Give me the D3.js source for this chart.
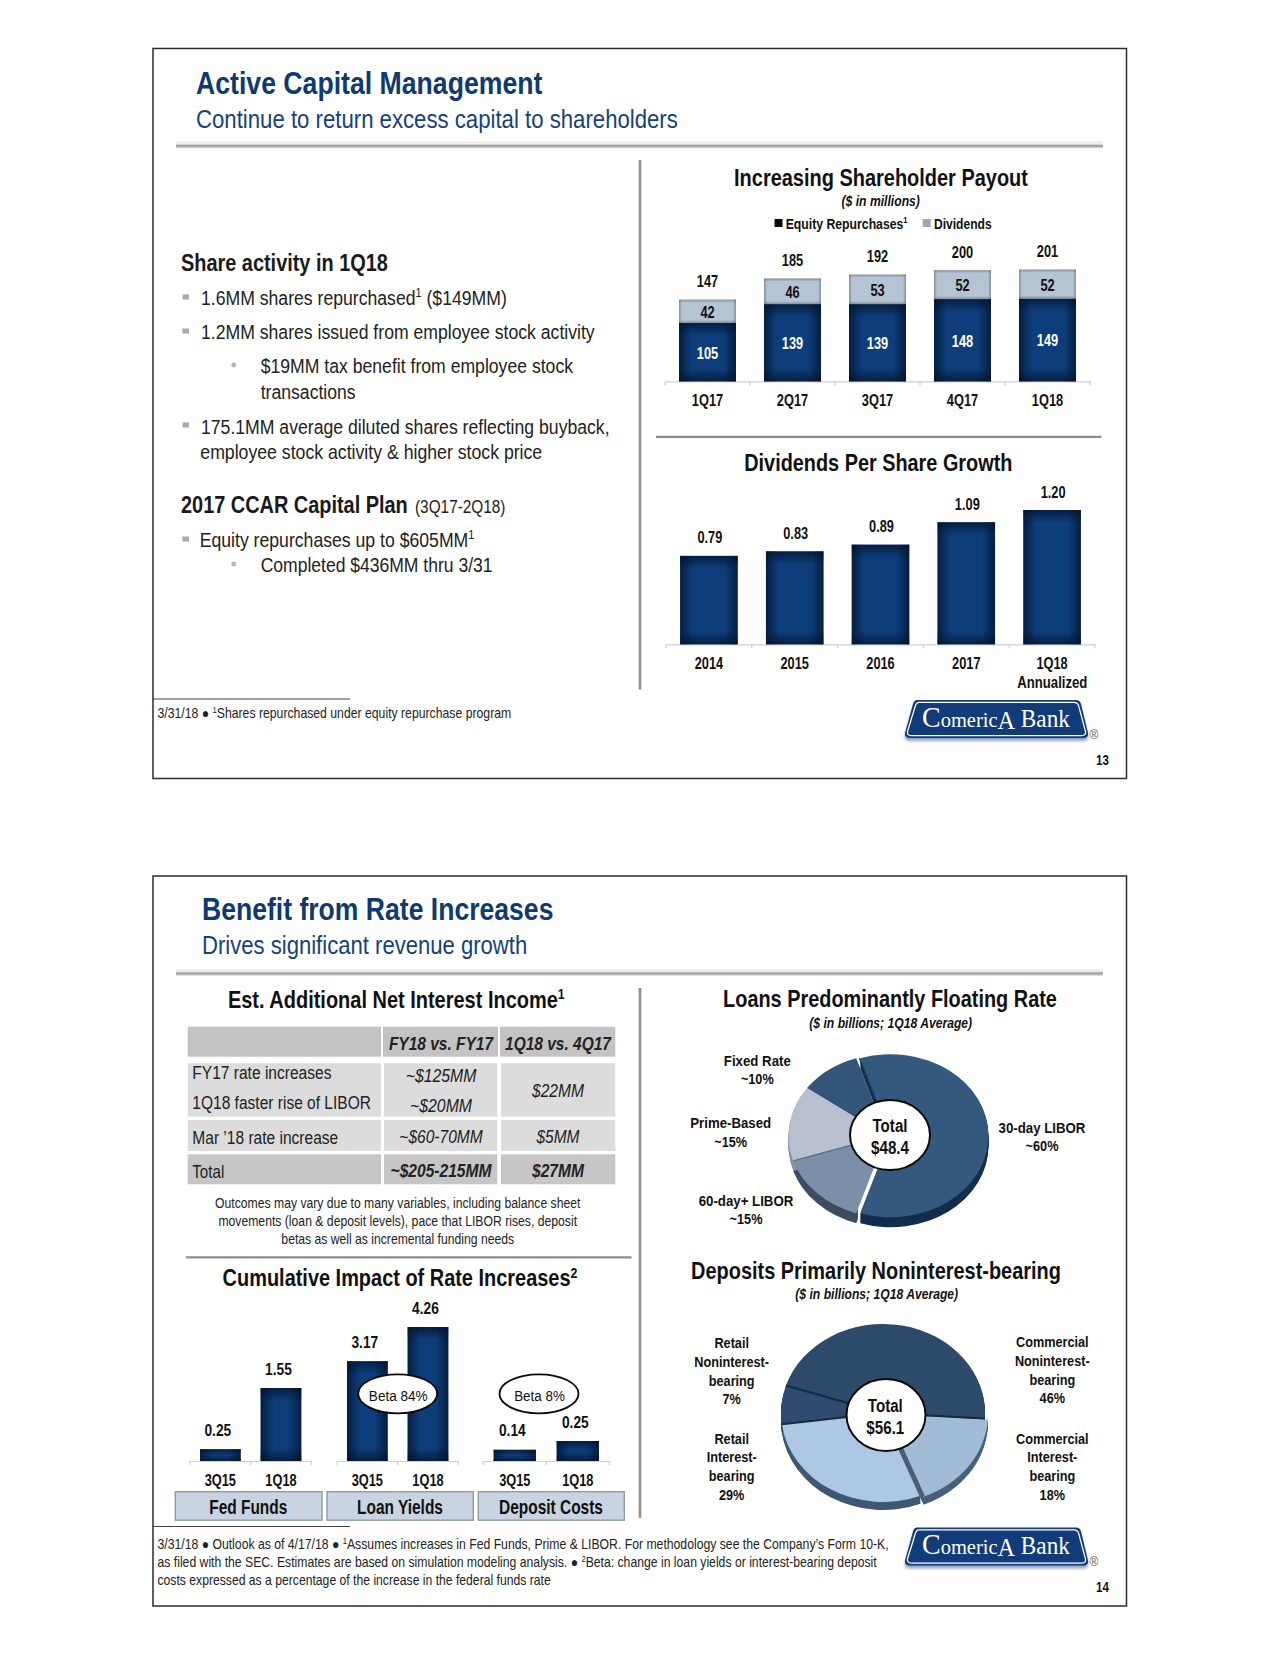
<!DOCTYPE html>
<html><head><meta charset="utf-8">
<script src="https://cdn.jsdelivr.net/npm/d3@7"></script>
<style>html,body{margin:0;padding:0;background:#fff}svg{display:block}</style>
</head><body><svg id="c" width="1280" height="1656"></svg>
<script>
// ---------- data ----------
const payoutQuarters = ["1Q17","2Q17","3Q17","4Q17","1Q18"];
const equityRepurchases = [105,139,139,148,149];
const dividends = [42,46,53,52,52];
const payoutTotals = [147,185,192,200,201];
const dpsYears = ["2014","2015","2016","2017","1Q18"];
const dpsValues = [0.79,0.83,0.89,1.09,1.20];
const rateGroups = ["Fed Funds","Loan Yields","Deposit Costs"];
const ratePeriods = ["3Q15","1Q18"];
const fedFunds = [0.25,1.55];
const loanYields = [3.17,4.26];
const depositCosts = [0.14,0.25];
const loanLabels = ["30-day LIBOR","60-day+ LIBOR","Prime-Based","Fixed Rate"];
const loanShares = [60,15,15,10];
const depositLabels = ["Commercial Noninterest-bearing","Commercial Interest-bearing","Retail Interest-bearing","Retail Noninterest-bearing"];
const depositShares = [46,18,29,7];
const tableHeader = ["FY18 vs. FY17","1Q18 vs. 4Q17"];
const tableFY = ["~$125MM","~$20MM","~$60-70MM","~$205-215MM"];
const tableQ = ["$22MM","$5MM","$27MM"];

// ---------- helpers ----------
const FONT = "'Liberation Sans', Arial, sans-serif";
const svg = d3.select("#c");
svg.append("rect").attr("width",1280).attr("height",1656).attr("fill","#fff");
function T(x,y,s,o={}){
  const sz=o.size||16;
  const t = svg.append("text").attr("font-family",FONT).attr("font-size",sz)
    .attr("font-weight",o.bold?700:400).attr("font-style",o.italic?"italic":"normal")
    .attr("text-anchor",o.anchor||"start").attr("fill",o.color||"#111");
  const parts = s.split(/\^(\d)/);
  let up=false;
  parts.forEach((p,i)=>{
    if(!p) return;
    const ts=t.append("tspan").text(p);
    if(i%2){ts.attr("font-size",sz*0.62).attr("dy",-sz*0.36);up=true;}
    else if(up){ts.attr("dy",sz*0.36);up=false;}
  });
  const len=t.node().getComputedTextLength();
  const k=o.w? o.w/len : (o.k||0.8);
  t.attr("transform",`translate(${x},${y}) scale(${k},1)`);
  return t;
}
const C=(x,y,s,o={})=>T(x,y,s,Object.assign({anchor:"middle"},o));
const defs=svg.append("defs");
const rl=defs.append("linearGradient").attr("id","rule").attr("x1",0).attr("y1",0).attr("x2",0).attr("y2",1);
[["0%","#e4e4e4"],["25%","#f4f4f4"],["42%","#dcdcdc"],["58%","#9c9c9c"],["78%","#b4b4b4"],["100%","#f2f2f2"]].forEach(s=>rl.append("stop").attr("offset",s[0]).attr("stop-color",s[1]));
const dsh=defs.append("filter").attr("id","soft").attr("x","-10%").attr("y","-20%").attr("width","120%").attr("height","150%");
dsh.append("feGaussianBlur").attr("stdDeviation",1.6);
let gid=0;
function edgeGrad(horizontal,frac,color,op){
  const id="g"+(gid++);
  const g=defs.append("linearGradient").attr("id",id).attr("x1",0).attr("y1",0).attr("x2",horizontal?1:0).attr("y2",horizontal?0:1);
  [[0,op],[frac,0],[1-frac,0],[1,op]].forEach(s=>g.append("stop").attr("offset",s[0]).attr("stop-color",color).attr("stop-opacity",s[1]));
  return `url(#${id})`;
}
// a rectangle shaded dark towards all four edges
function shaded(x,y,w,h,base,edge,fade,op){
  const r=(f)=>svg.append("rect").attr("x",x).attr("y",y).attr("width",w).attr("height",h).attr("fill",f);
  r(base);
  r(edgeGrad(true,Math.min(fade/w,.5),edge,op));
  r(edgeGrad(false,Math.min(fade/h,.5),edge,op));
}
const navy=(x,y,w,h)=>shaded(x,y,w,h,"#0d3e7b","#03122a",13,.72);
const capR=(x,y,w,h)=>shaded(x,y,w,h,"#b5c4d2","#65727e",3,.65);

function slideFrame(top,title,tw,sub,sw,tx,page){
  const dy=top-48.5;
  svg.append("rect").attr("x",153).attr("y",top).attr("width",973.5).attr("height",730).attr("fill","none").attr("stroke","#2b2b2b").attr("stroke-width",1.5);
  T(tx,94+dy-(page==14?1.5:0),title,{size:32,bold:true,color:"#0f3a70",w:tw});
  T(tx,128.3+dy-(page==14?1.5:0),sub,{size:26,color:"#14427c",w:sw});
  svg.append("rect").attr("x",176).attr("y",141.5+dy).attr("width",927).attr("height",7).attr("fill","url(#rule)");
  svg.append("line").attr("x1",153).attr("x2",350).attr("y1",699+dy).attr("y2",699+dy).attr("stroke","#444").attr("stroke-width",1);
  // logo
  const g=svg.append("g").attr("transform",`translate(905,${700+dy})`);
  const shape="M12,0 H171 Q175,0 176,4 L183,33 Q184,38 178,38 H5 Q-1,38 0,33 L8,4 Q9,0 12,0 Z";
  g.append("path").attr("d",shape).attr("transform","translate(0,3)").attr("fill","#8fa3bb").attr("filter","url(#soft)");
  g.append("path").attr("d",shape).attr("fill","#123b7a");
  g.append("path").attr("d",shape).attr("fill","none").attr("stroke","#fff").attr("stroke-width",1.3)
    .attr("transform","translate(92,19) scale(.972,.875) translate(-92,-19)");
  const lt=svg.append("text").attr("font-family","'Liberation Serif',serif").attr("fill","#fff").attr("text-anchor","middle").attr("font-size",24);
  lt.append("tspan").attr("font-size",30).text("C");
  lt.append("tspan").attr("font-size",22).text("omeric");
  lt.append("tspan").attr("font-size",26).attr("dy",2).text("A");
  lt.append("tspan").attr("font-size",25).attr("dy",-2).text(" Bank");
  const k=148/lt.node().getComputedTextLength();
  lt.attr("transform",`translate(996,${726.7+dy}) scale(${k},1)`);
  C(1094,738.5+dy,"®",{size:12,color:"#555",k:1});
  T(1109,764.5+dy,String(page),{size:14.5,bold:true,anchor:"end",k:.8});
}
function vrule(x,y1,y2){svg.append("line").attr("x1",x).attr("x2",x).attr("y1",y1).attr("y2",y2).attr("stroke","#8d8d8d").attr("stroke-width",2.6);}
function hrule(x1,x2,y){svg.append("line").attr("x1",x1).attr("x2",x2).attr("y1",y).attr("y2",y).attr("stroke","#8d8d8d").attr("stroke-width",2.2);}
function axis(x,base,labelY,labels,fontSize){
  const g=svg.append("g").attr("transform",`translate(0,${base})`);
  g.call(d3.axisBottom(x).tickSize(0).tickPadding(labelY-base-fontSize*0.78));
  g.select(".domain").attr("stroke","#cfcfcf").attr("stroke-width",1.2);
  g.selectAll("text").attr("font-family",FONT).attr("font-size",fontSize).attr("font-weight",700).attr("fill","#111")
    .attr("text-anchor","middle").attr("transform","scale(.8,1)");
  const st=x.step(), r=x.range();
  d3.range(labels.length+1).forEach(i=>{
    g.append("line").attr("x1",r[0]+i*st).attr("x2",r[0]+i*st).attr("y1",0).attr("y2",4).attr("stroke","#cfcfcf").attr("stroke-width",1.2);
  });
  return g;
}

// ---------- slide frames ----------
slideFrame(48.5,"Active Capital Management",346.5,"Continue to return excess capital to shareholders",482,196,13);
slideFrame(876,"Benefit from Rate Increases",351.5,"Drives significant revenue growth",325.5,202,14);
vrule(640,160,689.5); hrule(656,1101.5,436.8);
vrule(640,988,1518); hrule(186,631.5,1257.3);

// ---------- slide 13, left text ----------
const sq=(y)=>svg.append("rect").attr("x",182.5).attr("y",y-2.5).attr("width",6.5).attr("height",5).attr("fill","#a9a9a9");
const dot=(y)=>svg.append("circle").attr("cx",233.7).attr("cy",y).attr("r",2.4).attr("fill","#b5b5b5");
const body={size:21,color:"#222"};
T(181,271,"Share activity in 1Q18",{size:23.5,bold:true,w:207,color:"#1a1a1a"});
sq(297);T(201,305,"1.6MM shares repurchased^1 ($149MM)",{...body,w:306});
sq(331);T(201,339.4,"1.2MM shares issued from employee stock activity",{...body,w:394});
dot(365);T(260.7,373.3,"$19MM tax benefit from employee stock",{...body,w:312.5});
T(260.7,399,"transactions",{...body,w:95});
sq(425);T(201,433.5,"175.1MM average diluted shares reflecting buyback,",{...body,w:409});
T(200.3,459.2,"employee stock activity & higher stock price",{...body,w:342});
T(181,512.5,"2017 CCAR Capital Plan",{size:23.5,bold:true,w:227,color:"#1a1a1a"});
T(415,512.5,"(3Q17-2Q18)",{size:19,w:90.5,color:"#222"});
sq(539);T(199.7,547,"Equity repurchases up to $605MM^1",{...body,w:275});
dot(564);T(260.7,572.4,"Completed $436MM thru 3/31",{...body,w:232});
T(157.5,718,"3/31/18 ● ^1Shares repurchased under equity repurchase program",{size:14,w:354,color:"#222"});

// ---------- payout stacked bars ----------
C(881,185.7,"Increasing Shareholder Payout",{size:23.5,bold:true,w:294});
C(880.7,206,"($ in millions)",{size:14,bold:true,italic:true,w:78.5});
svg.append("rect").attr("x",774.5).attr("y",219).attr("width",8).attr("height",8).attr("fill","#0a0a0a");
T(785.7,228.6,"Equity Repurchases^1",{size:14.5,bold:true,w:122});
svg.append("rect").attr("x",922.7).attr("y",219).attr("width",8).attr("height",8).attr("fill","#9aaab8");
T(934,228.6,"Dividends",{size:14.5,bold:true,w:57.7});
const xP=d3.scaleBand().domain(payoutQuarters).range([665,1090]).paddingInner(0.33).paddingOuter(0.165);
const yP=d3.scaleLinear().domain([0,201]).range([381.4,269.6]);
axis(xP,381.4,407.5,payoutQuarters,16);
payoutQuarters.forEach((q,i)=>{
  const x=xP(q),w=xP.bandwidth(),e=equityRepurchases[i],d=dividends[i];
  navy(x,yP(e),w,yP(0)-yP(e));
  capR(x,yP(e+d),w,yP(e)-yP(e+d));
  const cx=x+w/2;
  C(cx,(yP(e)+yP(0))/2+6.5,String(e),{bold:true,color:"#fff"});
  C(cx,(yP(e)+yP(e+d))/2+6.5,String(d),{bold:true});
  C(cx,yP(e+d)-12.5,String(payoutTotals[i]),{bold:true});
});

// ---------- dividends per share ----------
C(878.3,470.5,"Dividends Per Share Growth",{size:23.5,bold:true,w:268.3});
const xD=d3.scaleBand().domain(dpsYears).range([666,1095]).paddingInner(0.33).paddingOuter(0.165);
const yD=d3.scaleLinear().domain([0,1.2]).range([644.3,510]);
axis(xD,644.3,670.3,dpsYears,16);
dpsYears.forEach((q,i)=>{
  const x=xD(q),w=xD.bandwidth();
  navy(x,yD(dpsValues[i]),w,yD(0)-yD(dpsValues[i]));
  C(x+w/2+1,yD(dpsValues[i])-12.5,dpsValues[i].toFixed(2),{bold:true});
});
C(1052.3,688.3,"Annualized",{bold:true,w:70});

// ---------- slide 14 table ----------
C(396.3,1007.8,"Est. Additional Net Interest Income^1",{size:23.5,bold:true,w:337});
const cell=(x1,x2,y1,y2,f)=>svg.append("rect").attr("x",x1).attr("y",y1).attr("width",x2-x1).attr("height",y2-y1).attr("fill",f);
const c1=[187.7,381],c2=[383,498],c3=[500,615.3];
cell(c1[0],c1[1],1026.7,1056.7,"#c3c3c3");cell(c2[0],c2[1],1026.7,1056.7,"#c3c3c3");cell(c3[0],c3[1],1026.7,1056.7,"#c3c3c3");
const c2b=[384,497.3],c3b=[501,615.3];
[[1063.3,1116.7,"#dcdcdc"],[1120,1151,"#dcdcdc"],[1154.3,1184.3,"#c6c6c6"]].forEach(r=>{
  cell(c1[0],c1[1],r[0],r[1],r[2]);cell(c2b[0],c2b[1],r[0],r[1],r[2]);cell(c3b[0],c3b[1],r[0],r[1],r[2]);});
const ts={size:18.5,color:"#222"};
T(192.3,1079.3,"FY17 rate increases",{...ts,w:139.3});
T(192.3,1109.3,"1Q18 faster rise of LIBOR",{...ts,w:178.7});
T(192.3,1144,"Mar ’18 rate increase",{...ts,w:146});
T(192.3,1178.3,"Total",{...ts,w:32});
const ti={size:18.5,italic:true,color:"#222"};
C(441,1050,tableHeader[0],{size:18,bold:true,italic:true,w:104.3,color:"#222"});
C(558,1050,tableHeader[1],{size:18,bold:true,italic:true,w:106,color:"#222"});
C(441,1081.7,tableFY[0],{...ti,w:70.7});
C(441,1112.3,tableFY[1],{...ti,w:62});
C(441,1143.3,tableFY[2],{...ti,w:83.5});
C(441,1177.3,tableFY[3],{size:18.5,bold:true,italic:true,w:101,color:"#222"});
C(558,1096.7,tableQ[0],{...ti,w:52});
C(558,1143.3,tableQ[1],{...ti,w:43});
C(558,1177.3,tableQ[2],{size:18.5,bold:true,italic:true,w:52,color:"#222"});
const ns={size:14.5,color:"#222"};
C(397.7,1208.3,"Outcomes may vary due to many variables, including balance sheet",{...ns,w:365.7});
C(397.7,1226.3,"movements (loan & deposit levels), pace that LIBOR rises, deposit",{...ns,w:359});
C(397.7,1244.3,"betas as well as incremental funding needs",{...ns,w:233});

// ---------- cumulative impact ----------
C(400,1286.2,"Cumulative Impact of Rate Increases^2",{size:23.5,bold:true,w:355});
const base=1461;
[
 {vals:fedFunds,r:[190,311.3],h:73,lo:-2.5,box:[175.3,322],cx:248.3,w:78},
 {vals:loanYields,r:[337,458.3],h:134,lo:-2.5,box:[327,473.3],cx:400,w:86},
 {vals:depositCosts,r:[483.3,609.3],h:20,lo:-2.5,box:[478.3,624.3],cx:551,w:104}
].forEach((g,gi)=>{
  const x=d3.scaleBand().domain(ratePeriods).range(g.r).paddingInner(0.33).paddingOuter(0.165);
  const y=d3.scaleLinear().domain([0,d3.max(g.vals)]).range([base,base-g.h]);
  axis(x,base,1487.5,ratePeriods,16);
  g.vals.forEach((v,i)=>{
    const bx=x(ratePeriods[i]),bw=x.bandwidth(),ht=y(0)-y(v);
    navy(bx,y(v),bw,ht);
    C(bx+bw/2+g.lo,y(v)-13.5,v.toFixed(2),{bold:true,k:.86});
  });
  svg.append("rect").attr("x",g.box[0]).attr("y",1491.7).attr("width",g.box[1]-g.box[0]).attr("height",28.5).attr("fill","#c8d4e0").attr("stroke","#8e9aa8").attr("stroke-width",1.4);
  C(g.cx,1513.8,rateGroups[gi],{size:19.5,bold:true,w:g.w});
});
[[397.7,"Beta 84%",58.7],[539,"Beta 8%",50.7]].forEach(d=>{
  svg.append("ellipse").attr("cx",d[0]).attr("cy",1393.8).attr("rx",39.5).attr("ry",19.5).attr("fill","#fff").attr("stroke","#0a0a0a").attr("stroke-width",1.8);
  C(d[0]+.5,1400.7,d[1],{size:15.5,w:d[2],color:"#111"});
});
const fn={size:14,color:"#222"};
T(157.5,1549.3,"3/31/18 ● Outlook as of 4/17/18 ● ^1Assumes increases in Fed Funds, Prime & LIBOR. For methodology see the Company’s Form 10-K,",{...fn,w:732.5});
T(157.5,1567.3,"as filed with the SEC. Estimates are based on simulation modeling analysis. ● ^2Beta: change in loan yields or interest-bearing deposit",{...fn,w:720});
T(157.5,1585,"costs expressed as a percentage of the increase in the federal funds rate",{...fn,w:393.7});

// ---------- 3-D pies ----------
function pie3d(o){
  const arcs=d3.pie().sort(null).startAngle(o.start).endAngle(o.start+2*Math.PI)(o.values);
  const k=o.ry/o.rx, path=d3.arc().innerRadius(0).outerRadius(o.rx);
  const rim=d3.arc().outerRadius(o.rx);
  arcs.forEach((a,i)=>{
    const off=o.off[i], inner=(o.sideInner||[])[i]||0;
    for(let d=o.depth;d>=1;d--){
      svg.append("path").attr("d",rim.innerRadius(inner)(a)).attr("transform",`translate(${o.cx+off[0]},${o.cy+off[1]+d}) scale(1,${k})`).attr("fill",o.side[i]);
    }
  });
  arcs.forEach((a,i)=>{
    const off=o.off[i];
    svg.append("path").attr("d",path(a)).attr("transform",`translate(${o.cx+off[0]},${o.cy+off[1]}) scale(1,${k})`).attr("fill",o.top[i]);
  });
  (o.edges||[]).forEach(e=>{
    const a=arcs[e.slice], ang=e.end?a.endAngle:a.startAngle, off=o.off[e.from==null?e.slice:e.from];
    svg.append("line").attr("x1",o.cx+off[0]+(e.dx||0)).attr("y1",o.cy+off[1])
      .attr("x2",o.cx+off[0]+(e.dx||0)+o.rx*Math.sin(ang)).attr("y2",o.cy+off[1]-o.ry*Math.cos(ang))
      .attr("stroke",e.color).attr("stroke-width",e.width);
  });
  svg.append("ellipse").attr("cx",o.hole[0]).attr("cy",o.hole[1]).attr("rx",o.hole[2]).attr("ry",o.hole[3]).attr("fill","#fff").attr("stroke","#0a0a0a").attr("stroke-width",2);
}
const deg=Math.PI/180;
const pl={bold:true,size:15.5};
C(890,1007,"Loans Predominantly Floating Rate",{size:23.5,bold:true,w:334});
C(890.7,1028.3,"($ in billions; 1Q18 Average)",{size:14,bold:true,italic:true,w:163});
pie3d({values:loanShares,start:-18*deg,cx:886.5,cy:1135.7,rx:98,ry:81.5,depth:10,hole:[890,1135,40,35],
  off:[[4,0],[0,0],[0,0],[0,0]],top:["#35587e","#7c8fa8","#b8c0cf","#34557a"],side:["#132e4c","#3e4b60","#8a94a5","#1d3553"],sideInner:[0,92,0,0],
  edges:[{slice:0,color:"#1c3a5a",width:1.4,dx:-.8},{slice:1,color:"#5c6c82",width:1.2,end:true}]});
C(757.3,1066,"Fixed Rate",{...pl,w:67});C(757.3,1084.3,"~10%",{...pl,k:.82});
C(730.7,1127.7,"Prime-Based",{...pl,w:81});C(730.7,1146.7,"~15%",{...pl,k:.82});
C(746,1206,"60-day+ LIBOR",{...pl,w:94.7});C(746,1224.3,"~15%",{...pl,k:.82});
C(1042,1132.7,"30-day LIBOR",{...pl,w:87});C(1042,1150.7,"~60%",{...pl,k:.82});
C(890,1131.7,"Total",{size:19,bold:true,w:35});C(890,1154,"$48.4",{size:19,bold:true,w:38});

C(876,1278.8,"Deposits Primarily Noninterest-bearing",{size:23.5,bold:true,w:370});
C(876.7,1298.6,"($ in billions; 1Q18 Average)",{size:14,bold:true,italic:true,w:163});
pie3d({values:depositShares,start:-72*deg,cx:883,cy:1413,rx:102,ry:89,depth:8,hole:[886,1415,39.5,36],
  off:[[0,0],[3,1],[0,0],[0,0]],top:["#2e4a6b","#a3bcd5","#aec8e3","#2f4c70"],side:["#1e3550","#48617b","#3f5872","#1e3550"],
  edges:[{slice:0,color:"#16293f",width:2.2},{slice:0,color:"#16293f",width:2,end:true},{slice:2,color:"#16293f",width:2,end:true},{slice:1,from:1,color:"#4a5f75",width:5,end:true,dx:-1}]});
[[731.7,1348.3,"Retail"],[731.7,1367,"Noninterest-"],[731.7,1386,"bearing"],[731.7,1404.3,"7%"],
 [731.7,1444,"Retail"],[731.7,1462.3,"Interest-"],[731.7,1481,"bearing"],[731.7,1500,"29%"],
 [1052.3,1347,"Commercial"],[1052.3,1365.7,"Noninterest-"],[1052.3,1385,"bearing"],[1052.3,1403.3,"46%"],
 [1052.3,1444,"Commercial"],[1052.3,1462.3,"Interest-"],[1052.3,1481,"bearing"],[1052.3,1500,"18%"]
].forEach(d=>C(d[0],d[1],d[2],{...pl,k:.82}));
C(885.3,1412.3,"Total",{size:19,bold:true,w:35});C(885.3,1434,"$56.1",{size:19,bold:true,w:38});
</script></body></html>
